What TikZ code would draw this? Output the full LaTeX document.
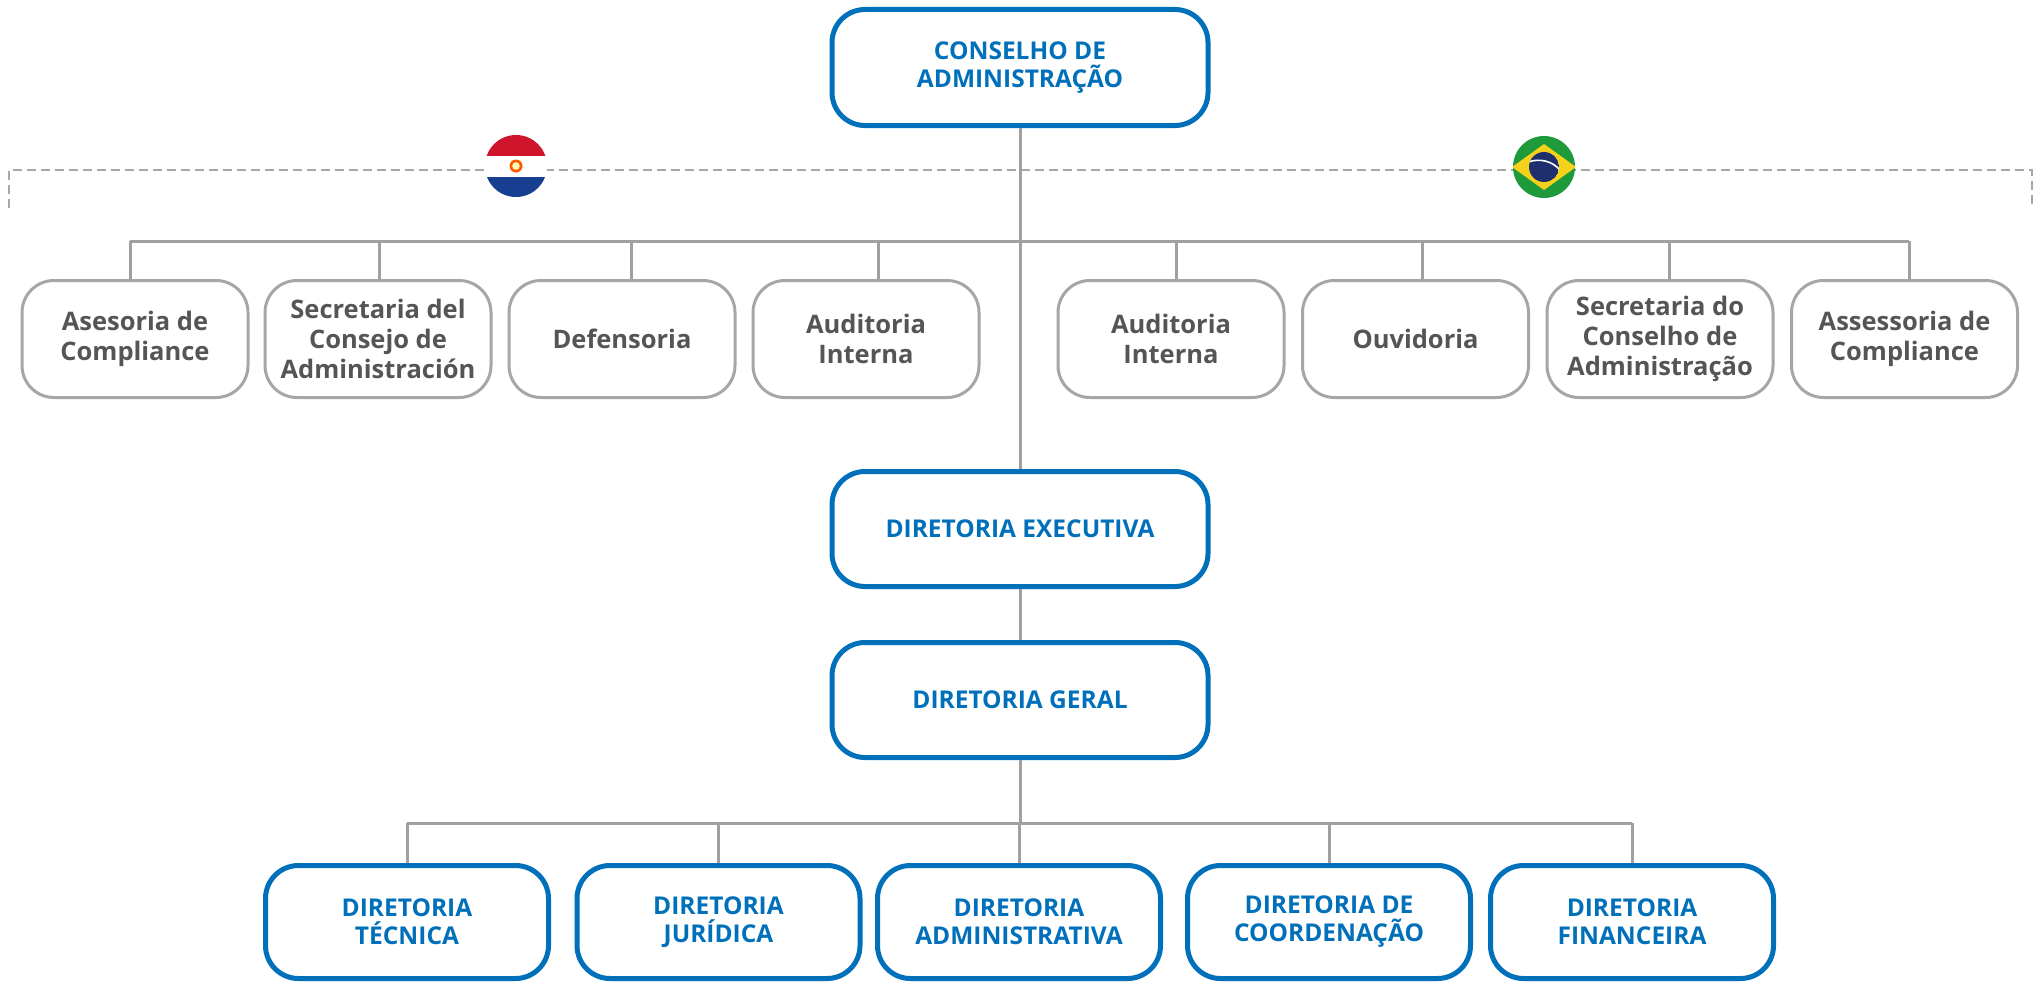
\documentclass[tikz,border=0pt]{standalone}
\usepackage{fontspec}
\setmainfont{Open Sans}
\usetikzlibrary{calc}
\definecolor{bl}{HTML}{0070BA}
\definecolor{gtx}{HTML}{555555}
\definecolor{gbd}{HTML}{A6A6A6}
\definecolor{gln}{HTML}{A0A0A0}
\definecolor{dsh}{HTML}{A8A8A8}
\definecolor{pyred}{HTML}{D0142C}
\definecolor{pyblue}{HTML}{183E91}
\definecolor{brgreen}{HTML}{1E9A3A}
\definecolor{bryel}{HTML}{F4D21C}
\definecolor{brblue}{HTML}{1F2F6E}
\begin{document}
\begin{tikzpicture}[x=1pt,y=-1pt,
  bluebox/.style={draw=bl,line width=5pt,rounded corners=33pt,fill=white,
    minimum width=376pt,minimum height=116pt,align=center,text=bl,
    font=\fontsize{24.5}{28}\selectfont\bfseries,inner sep=0pt},
  dbox/.style={bluebox,minimum width=283pt,minimum height=113pt},
  gbox/.style={draw=gbd,line width=3pt,rounded corners=32pt,fill=white,
    minimum width=226pt,minimum height=117pt,align=center,text=gtx,
    font=\fontsize{25.5}{30}\selectfont\bfseries,inner sep=0pt},
  conn/.style={draw=gln,line width=3pt},
  dashln/.style={draw=dsh,line width=2.5pt,dash pattern=on 9pt off 5pt}]
\fill[white] (0,0) rectangle (2044,982);
\useasboundingbox (0,0) rectangle (2044,982);

% dashed bracket
\draw[dashln] (9,208) -- (9,170) -- (2032,170) -- (2032,208);

% Paraguay flag
\begin{scope}
\clip (516,166) circle[radius=31pt];
\fill[pyred] (484,134) rectangle (548,156);
\fill[white] (484,156) rectangle (548,177);
\fill[pyblue] (484,177) rectangle (548,198);
\end{scope}
\fill[orange!70!red] (516,166) circle[radius=6.5pt];
\fill[yellow!30!white] (516,166) circle[radius=3.8pt];

% Brazil flag
\fill[brgreen] (1544,167) circle[radius=31pt];
\begin{scope}
\clip (1544,167) circle[radius=31pt];
\fill[bryel] (1512,167) -- (1544,144) -- (1576,167) -- (1544,190) -- cycle;
\end{scope}
\begin{scope}
\clip (1544,167) circle[radius=15pt];
\fill[brblue] (1544,167) circle[radius=15pt];
\draw[white,line width=1.6pt] (1528,162) .. controls (1540,158) and (1552,161) .. (1560,170);
\end{scope}

% nodes
\node[bluebox] (cons) at (1020,67.5) {CONSELHO DE\\ADMINISTRAÇÃO};
\node[bluebox,minimum height=115pt] (exec) at (1020,529) {DIRETORIA EXECUTIVA};
\node[bluebox,minimum height=115pt] (geral) at (1020,700) {DIRETORIA GERAL};

\node[gbox] (g1) at (135,339) {Asesoria de\\Compliance};
\node[gbox] (g2) at (378,339) {Secretaria del\\Consejo de\\Administración};
\node[gbox] (g3) at (622,339) {Defensoria};
\node[gbox] (g4) at (866,339) {Auditoria\\Interna};
\node[gbox] (g5) at (1171,339) {Auditoria\\Interna};
\node[gbox] (g6) at (1415.5,339) {Ouvidoria};
\node[gbox] (g7) at (1660,339) {Secretaria do\\Conselho de\\Administração};
\node[gbox] (g8) at (1904.5,339) {Assessoria de\\Compliance};

\node[dbox] (d1) at (407,922) {DIRETORIA\\TÉCNICA};
\node[dbox] (d2) at (718.5,922) {DIRETORIA\\JURÍDICA};
\node[dbox] (d3) at (1019,922) {DIRETORIA\\ADMINISTRATIVA};
\node[dbox] (d4) at (1329,922) {DIRETORIA DE\\COORDENAÇÃO};
\node[dbox] (d5) at (1632,922) {DIRETORIA\\FINANCEIRA};

% connectors
\coordinate (busU) at (1020,241);
\coordinate (busD) at (1020,823);
\draw[conn] (cons.south) -- (exec.north);
\draw[conn] (exec.south) -- (geral.north);
\draw[conn] (geral.south) -- (busD);

\coordinate (u1) at ($(g1.north)+(-5,0)$);
\coordinate (u2) at ($(g2.north)+(1,0)$);
\coordinate (u3) at ($(g3.north)+(9,0)$);
\coordinate (u4) at ($(g4.north)+(12,0)$);
\coordinate (u5) at ($(g5.north)+(5.5,0)$);
\coordinate (u6) at ($(g6.north)+(6.5,0)$);
\coordinate (u7) at ($(g7.north)+(9,0)$);
\coordinate (u8) at ($(g8.north)+(4.5,0)$);
\draw[conn] (u1 |- busU) -- (u8 |- busU);
\foreach \i in {1,...,8} {\draw[conn] (u\i) -- (u\i |- busU);}

\draw[conn] (d1.north |- busD) -- (d5.north |- busD);
\foreach \i in {1,...,5} {\draw[conn] (d\i.north) -- (d\i.north |- busD);}
\end{tikzpicture}
\end{document}
